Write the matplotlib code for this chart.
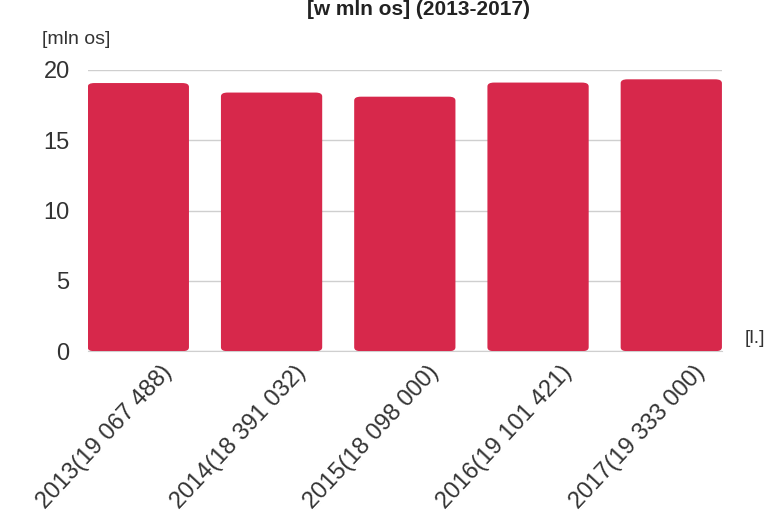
import matplotlib.pyplot as plt
from matplotlib.patches import FancyBboxPatch
from matplotlib.transforms import ScaledTranslation

plt.rcParams['font.family'] = ['Liberation Sans', 'DejaVu Sans']

lata = ["2013", "2014", "2015", "2016", "2017"]
liczby = ["19 067 488", "18 391 032", "18 098 000", "19 101 421", "19 333 000"]
wartosci = [19.067488, 18.391032, 18.098, 19.101421, 19.333]
etykiety = [f"{r}({n})" for r, n in zip(lata, liczby)]

kolor = "#D7284B"
szary = "#333333"

fig = plt.figure(figsize=(7.83, 5.18), dpi=100)
ax = fig.add_axes([0.112, 0.322, 0.81, 0.543])

x = list(range(len(wartosci)))
bars = ax.bar(x, wartosci, width=0.76, color=kolor, zorder=3)

# zaokraglone rogi slupkow
for b in bars:
    b.set_visible(False)
    p = FancyBboxPatch((b.get_x(), 0), b.get_width(), b.get_height(),
                       boxstyle="round,pad=0,rounding_size=0.05",
                       mutation_aspect=5.4,
                       facecolor=kolor, edgecolor="none", zorder=3)
    ax.add_patch(p)

ax.set_xlim(-0.38, 4.38)
ax.set_ylim(0, 20)
ax.set_yticks([0, 5, 10, 15, 20])
ax.yaxis.grid(True, color="#cfcfcf", linewidth=1, zorder=0)
ax.set_axisbelow(True)

for s in ["top", "right", "left"]:
    ax.spines[s].set_visible(False)
ax.spines["bottom"].set_color("#cfcfcf")

ax.tick_params(axis="both", length=0, colors=szary, labelsize=17)
ax.tick_params(axis="y", pad=13)
ax.tick_params(axis="x", pad=7)
ax.set_xticks(x)
ax.set_xticklabels(etykiety, rotation=47, ha="right", rotation_mode="anchor", fontsize=17)
for lab in ax.get_xticklabels():
    lab.set_transform(lab.get_transform() + ScaledTranslation(16 / 72, 0, fig.dpi_scale_trans))

fig.text(0.054, 0.915, "[mln os]", fontsize=14, color=szary)
fig.text(0.951, 0.33, "[l.]", fontsize=14, color=szary, va="bottom")
fig.text(0.535, 1.0, "[w mln os] (2013-2017)", fontsize=15, fontweight="bold",
         ha="center", va="top", color="#222222")

fig.savefig("out.png", dpi=100)
